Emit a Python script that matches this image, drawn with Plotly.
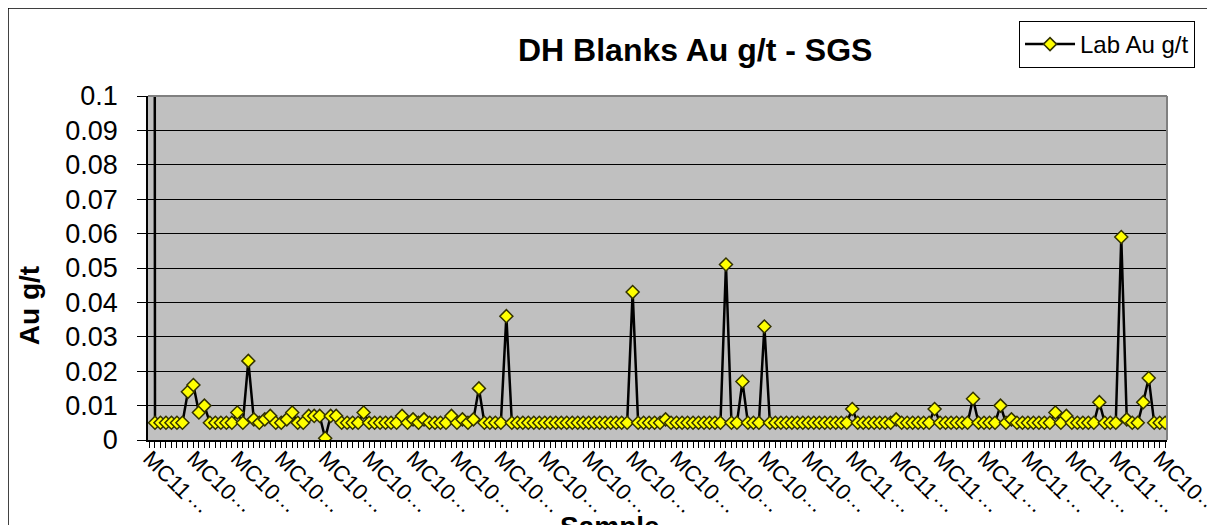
import plotly.graph_objects as go

# Au g/t values per sample (first one is the off-scale standard)
au_values = [
    2.5, 0.005, 0.005, 0.005, 0.005, 0.005, 0.005, 0.014, 0.016, 0.008,
    0.010, 0.005, 0.005, 0.005, 0.005, 0.005, 0.008, 0.005, 0.023, 0.006,
    0.005, 0.006, 0.007, 0.005, 0.005, 0.006, 0.008, 0.005, 0.005, 0.007,
    0.007, 0.007, 0.0005, 0.007, 0.007, 0.005, 0.005, 0.005, 0.005, 0.008,
    0.005, 0.005, 0.005, 0.005, 0.005, 0.005, 0.007, 0.005, 0.006, 0.005,
    0.006, 0.005, 0.005, 0.005, 0.005, 0.007, 0.005, 0.006, 0.005, 0.006,
    0.015, 0.005, 0.005, 0.005, 0.005, 0.036, 0.005, 0.005, 0.005, 0.005,
    0.005, 0.005, 0.005, 0.005, 0.005, 0.005, 0.005, 0.005, 0.005, 0.005,
    0.005, 0.005, 0.005, 0.005, 0.005, 0.005, 0.005, 0.005, 0.043, 0.005,
    0.005, 0.005, 0.005, 0.005, 0.006, 0.005, 0.005, 0.005, 0.005, 0.005,
    0.005, 0.005, 0.005, 0.005, 0.005, 0.051, 0.005, 0.005, 0.017, 0.005,
    0.005, 0.005, 0.033, 0.005, 0.005, 0.005, 0.005, 0.005, 0.005, 0.005,
    0.005, 0.005, 0.005, 0.005, 0.005, 0.005, 0.005, 0.005, 0.009, 0.005,
    0.005, 0.005, 0.005, 0.005, 0.005, 0.005, 0.006, 0.005, 0.005, 0.005,
    0.005, 0.005, 0.005, 0.009, 0.005, 0.005, 0.005, 0.005, 0.005, 0.005,
    0.012, 0.005, 0.005, 0.005, 0.005, 0.010, 0.005, 0.006, 0.005, 0.005,
    0.005, 0.005, 0.005, 0.005, 0.005, 0.008, 0.005, 0.007, 0.005, 0.005,
    0.005, 0.005, 0.005, 0.011, 0.005, 0.005, 0.005, 0.059, 0.006, 0.005,
    0.005, 0.011, 0.018, 0.005, 0.005, 0.005,
]
sample_pos = list(range(len(au_values)))

# truncated sample labels, one every 8 samples
label_pos = list(range(0, len(au_values), 8))
label_text = ["MC11"] + ["MC10"] * 15 + ["MC11"] * 7 + ["MC10"]

FONT = "Liberation Sans, Arial, sans-serif"

fig = go.Figure()
fig.add_trace(go.Scatter(
    x=sample_pos, y=au_values,
    mode="lines+markers",
    name="Lab Au g/t",
    line=dict(color="black", width=2.5),
    marker=dict(symbol="diamond", size=10, color="#ffff00",
                line=dict(color="#333300", width=1.5)),
))

# plot area top/right border in grey
fig.add_shape(type="line", xref="paper", yref="paper", x0=0, x1=1, y0=1, y1=1,
              line=dict(color="#808080", width=2))
fig.add_shape(type="line", xref="paper", yref="paper", x0=1, x1=1, y0=0, y1=1,
              line=dict(color="#808080", width=2))
# chart border
fig.add_shape(type="rect", xref="paper", yref="paper",
              x0=-0.1374, x1=1.0422, y0=-0.3, y1=1.2558,
              line=dict(color="black", width=1.5), layer="below")

# the ellipsis of each truncated label sits on a second line
for p in label_pos:
    fig.add_annotation(text="…", x=p, xref="x", y=0, yref="paper",
                       xanchor="center", yanchor="middle",
                       xshift=50, yshift=-61, textangle=45, showarrow=False,
                       font=dict(family=FONT, size=22, color="black"))

fig.add_annotation(text="<b>DH Blanks Au g/t - SGS</b>", xref="paper", yref="paper",
                   x=0.537, y=1.134, xanchor="center", yanchor="middle", showarrow=False,
                   font=dict(family=FONT, size=32, color="black"))
fig.add_annotation(text="<b>Au g/t</b>", xref="paper", yref="paper",
                   x=-0.1168, y=0.392, xanchor="center", yanchor="middle",
                   showarrow=False, textangle=-90,
                   font=dict(family=FONT, size=28, color="black"))
fig.add_annotation(text="<b>Sample</b>", xref="paper", yref="paper",
                   x=0.453, y=-0.2, xanchor="center", yanchor="top", showarrow=False,
                   font=dict(family=FONT, size=28, color="black"))

# the page adds an 8px body margin, so the figure is 8px smaller each way
fig.update_layout(
    width=1207, height=517,
    margin=dict(l=140, r=48, t=88, b=85, autoexpand=False),
    paper_bgcolor="white",
    plot_bgcolor="#c0c0c0",
    font=dict(family=FONT, color="black"),
    showlegend=True,
    legend=dict(x=1.0275, y=1.218, xanchor="right", yanchor="top",
                bgcolor="white", bordercolor="black", borderwidth=1,
                font=dict(size=24), itemwidth=50, entrywidth=170,
                tracegroupgap=0),
    xaxis=dict(
        range=[-0.273, 185.33],
        tickmode="array", tickvals=label_pos, ticktext=label_text,
        tickangle=45, tickfont=dict(size=22),
        ticks="outside", ticklen=6, tickcolor="black", tickwidth=1,
        ticklabelstandoff=-11,
        minor=dict(tickmode="linear", tick0=0, dtick=1, ticks="outside",
                   ticklen=6, tickcolor="black", tickwidth=1, showgrid=False),
        showgrid=False, zeroline=False,
        showline=True, linecolor="black", linewidth=1.5,
    ),
    yaxis=dict(
        range=[0, 0.1], dtick=0.01, tick0=0,
        tickfont=dict(size=27),
        ticks="outside", ticklen=9, tickcolor="black", tickwidth=1,
        ticklabelstandoff=14,
        showgrid=True, gridcolor="black", gridwidth=1,
        zeroline=False,
        showline=True, linecolor="black", linewidth=1.5,
    ),
)

fig.write_html("out.html")
